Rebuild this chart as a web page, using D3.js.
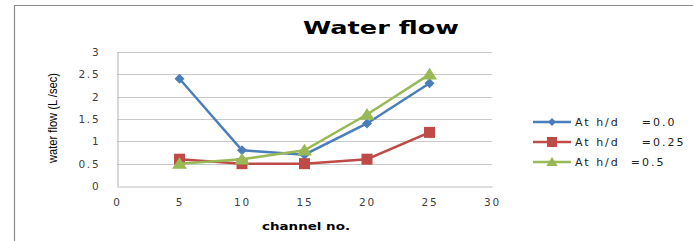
<!DOCTYPE html>
<html>
<head>
<meta charset="utf-8">
<script src="https://cdn.jsdelivr.net/npm/d3@7"></script>
<style>
body { margin: 0; background: #fff; }
svg { display: block; }
</style>
</head>
<body>
<svg id="chart" width="693" height="241"></svg>
<script>
const channels = [5, 10, 15, 20, 25];
const flowH00 = [2.4, 0.8, 0.7, 1.4, 2.3];
const flowH025 = [0.6, 0.5, 0.5, 0.6, 1.2];
const flowH05 = [0.5, 0.6, 0.8, 1.6, 2.5];
const seriesNames = ["At h/d    =0.0", "At h/d    =0.25", "At h/d  =0.5"];
const xTicks = [0, 5, 10, 15, 20, 25, 30];
const yTicks = [0, 0.5, 1, 1.5, 2, 2.5, 3];

const series = [
    { name: seriesNames[0], values: flowH00, color: "#4a7ebb", marker: "diamond" },
    { name: seriesNames[1], values: flowH025, color: "#be4b48", marker: "square" },
    { name: seriesNames[2], values: flowH05, color: "#98b954", marker: "triangle" }
];

const svg = d3.select("#chart");

// outer chart border
svg.append("path")
    .attr("d", "M14.5,260 V5.5 H700")
    .style("fill", "none")
    .style("stroke", "#8c8c8c")
    .style("stroke-width", 1.2);

const x = d3.scaleLinear().domain([0, 30]).range([117, 492]);
const y = d3.scaleLinear().domain([0, 3]).range([186, 52]);

// gridlines
svg.append("g").selectAll("line")
    .data(yTicks.slice(1))
    .enter().append("line")
    .attr("x1", x(0)).attr("x2", x(30))
    .attr("y1", d => Math.round(y(d)) + 0.5).attr("y2", d => Math.round(y(d)) + 0.5)
    .style("stroke", "#c8c8c8")
    .style("stroke-width", 1.2);

// axes
const xAxis = svg.append("g")
    .attr("transform", `translate(0,${Math.round(y(0)) + 0.5})`)
    .call(d3.axisBottom(x).tickValues(xTicks).tickSize(0).tickPadding(12).tickFormat(d3.format("d")));
const yAxis = svg.append("g")
    .attr("transform", `translate(${x(0) + 0.5},0)`)
    .call(d3.axisLeft(y).tickValues(yTicks).tickSize(0).tickPadding(17).tickFormat(d => String(d)));

[xAxis, yAxis].forEach(a => {
    a.select(".domain").style("stroke", "#bfbfbf").style("stroke-width", 1.2);
    a.selectAll("text")
        .style("font-family", "Verdana, 'DejaVu Sans', sans-serif")
        .style("font-size", "10.5px")
        .style("letter-spacing", "1.8px")
        .style("fill", "#404040");
});

// lines and markers
const line = d3.line()
    .x((d, i) => x(channels[i]))
    .y(d => y(d));

function drawMarker(g, type, color, size) {
    if (type === "diamond") {
        g.append("path").attr("d", `M0,${-size} L${size},0 L0,${size} L${-size},0 Z`).style("fill", color);
    } else if (type === "square") {
        g.append("rect").attr("x", -size).attr("y", -size).attr("width", size * 2).attr("height", size * 2).style("fill", color);
    } else {
        g.append("path").attr("d", `M0,${-size} L${size * 1.15},${size * 0.8} L${-size * 1.15},${size * 0.8} Z`).style("fill", color);
    }
}

series.forEach(s => {
    svg.append("path")
        .datum(s.values)
        .attr("d", line)
        .style("fill", "none")
        .style("stroke", s.color)
        .style("stroke-width", 2.5);
    s.values.forEach((v, i) => {
        const g = svg.append("g").attr("transform", `translate(${x(channels[i])},${y(v)})`);
        drawMarker(g, s.marker, s.color, s.marker === "diamond" ? 5 : s.marker === "square" ? 5.5 : 6.5);
    });
});

// title
svg.append("text")
    .attr("x", 303).attr("y", 34)
    .attr("textLength", 156)
    .attr("lengthAdjust", "spacingAndGlyphs")
    .style("font-family", "Verdana, 'DejaVu Sans', sans-serif")
    .style("font-weight", "bold")
    .style("font-size", "17px")
    .text("Water flow");

// axis titles
svg.append("text")
    .attr("transform", "translate(57,163) rotate(-90)")
    .attr("textLength", 90)
    .attr("lengthAdjust", "spacingAndGlyphs")
    .style("font-family", "'Liberation Sans', Arial, sans-serif")
    .style("font-size", "13.5px")
    .text("water flow (L /sec)");

svg.append("text")
    .attr("x", 262).attr("y", 230)
    .attr("textLength", 88)
    .attr("lengthAdjust", "spacingAndGlyphs")
    .style("font-family", "Verdana, 'DejaVu Sans', sans-serif")
    .style("font-weight", "bold")
    .style("font-size", "10.5px")
    .text("channel no.");

// legend
const legend = svg.append("g");
series.forEach((s, i) => {
    const ly = 122 + i * 20;
    legend.append("line")
        .attr("x1", 533).attr("x2", 571).attr("y1", ly).attr("y2", ly)
        .style("stroke", s.color).style("stroke-width", 2.5);
    const g = legend.append("g").attr("transform", `translate(552,${ly})`);
    drawMarker(g, s.marker, s.color, s.marker === "diamond" ? 4 : 5);
    legend.append("text")
        .attr("x", 575).attr("y", ly + 4)
        .style("font-family", "Verdana, 'DejaVu Sans', sans-serif")
        .style("font-size", "11px")
        .style("white-space", "pre")
        .style("letter-spacing", "2px")
        .style("fill", "#222")
        .text(s.name);
});
</script>
</body>
</html>
